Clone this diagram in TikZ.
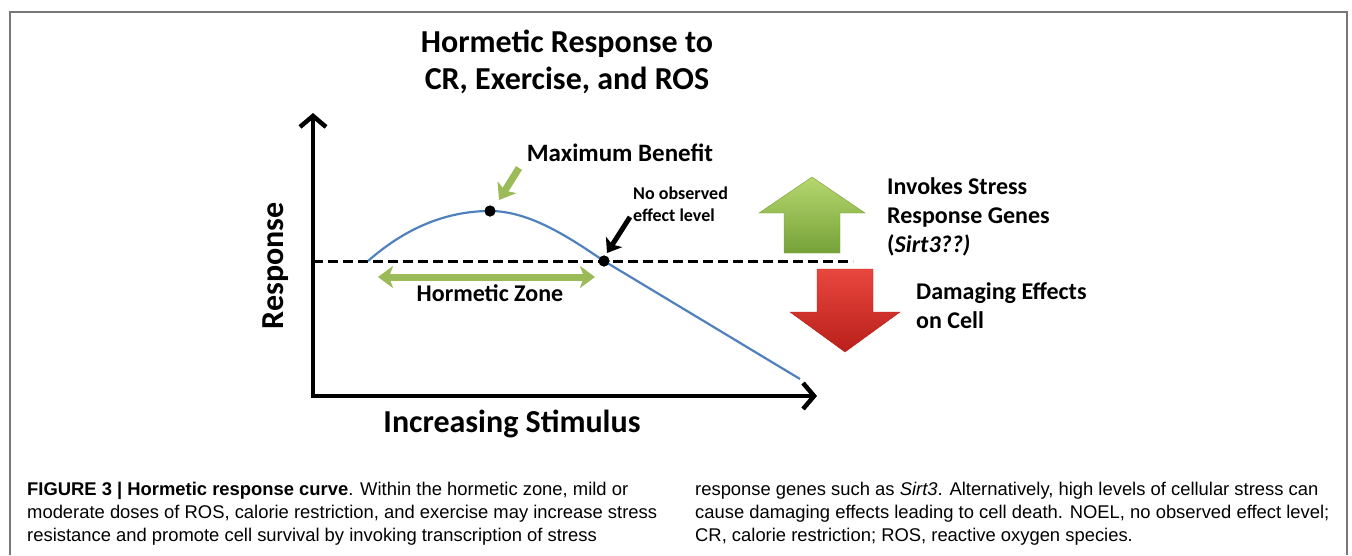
\documentclass[tikz,border=0pt]{standalone}
\usepackage{fontspec}
\setmainfont{Carlito}
\newfontfamily\capfont{Liberation Sans}
\usetikzlibrary{arrows.meta}

\definecolor{framegray}{HTML}{777777}
\definecolor{curveblue}{HTML}{4F81BD}
\definecolor{zonegreen}{HTML}{9BBB59}
\definecolor{upgreentop}{HTML}{B5D76E}
\definecolor{upgreenbot}{HTML}{76A239}
\definecolor{downredtop}{HTML}{E8473E}
\definecolor{downredbot}{HTML}{B91F1B}

\tikzset{
	lbl/.style={inner sep=0pt, font=\fontsize{24}{29}\selectfont\bfseries},
	axislabel/.style={inner sep=0pt, font=\fontsize{32}{38}\selectfont\bfseries},
	captext/.style={inner sep=0pt, align=left, font=\capfont\fontsize{18.4}{23}\selectfont},
	axisline/.style={line width=4.5pt, line join=miter, {Straight Barb[length=11pt,width=26pt]}-{Straight Barb[length=11pt,width=26pt]}},
	fatarrow/.style={line width=7pt, color=zonegreen, -{Stealth[length=15pt,width=22pt,inset=4pt]}},
	dot/.style={circle, fill=black, inner sep=0pt, minimum size=11pt}
}

\begin{document}
\begin{tikzpicture}[x=1pt,y=-1pt]
			\useasboundingbox (0,0) rectangle (1352,555);
			\draw[framegray, line width=1.5pt] (10,555) -- (10,12) -- (1347,12) -- (1347,555);
			
			\coordinate (origin) at (313,396);
			\coordinate (ytip) at (313,113);
			\coordinate (xtip) at (817,396);
			\coordinate (dashL) at (313,261);
			\coordinate (dashR) at (853,261);
			\coordinate (start) at (368,261);
			\coordinate (finish) at (800,379);
			\coordinate (zoneL) at (378,277);
			\coordinate (zoneR) at (595,277);
			\coordinate (benefitTail) at (519,168);
			\coordinate (benefitTip) at (499,200);
			\coordinate (noelTail) at (630,217);
			\coordinate (noelTip) at (607,253);
			
			\node[align=center, inner sep=0pt, font=\fontsize{32}{37}\selectfont\bfseries] (title) at (567,62) {Hormetic Response to\\CR, Exercise, and ROS};
			
			\draw[dashed, dash pattern=on 10pt off 5pt, line width=3pt] (dashL) -- (dashR);
			\draw[axisline] (ytip) -- (origin) -- (xtip);
			
			\node[dot] (peak) at (490,211) {};
			\node[dot] (noel) at (604,261) {};
			\draw[curveblue, line width=2.2pt] (start) .. controls (410,224) and (452,211) .. (peak.center) .. controls (530,211) and (570,238) .. (noel.center) -- (finish);
			\node[dot] at (peak) {};
			\node[dot] at (noel) {};
			
			\node[axislabel, rotate=90] (ylabel) at (276,266) {Response};
			\node[axislabel] (xlabel) at (512,424) {Increasing Stimulus};
			
			\node[lbl, font=\fontsize{25}{30}\selectfont\bfseries] (benefit) at (620,153) {Maximum Benefit};
			\draw[fatarrow] (benefitTail) -- (benefitTip);
			
			\node[lbl, anchor=west, align=left, font=\fontsize{18}{22}\selectfont\bfseries] (noeltext) at (633,204) {No observed\\effect level};
			\draw[line width=5pt, -{Stealth[length=13pt,width=19pt,inset=3pt]}] (noelTail) -- (noelTip);
			
			\draw[fatarrow, {Stealth[length=15pt,width=22pt,inset=4pt]}-{Stealth[length=15pt,width=22pt,inset=4pt]}] (zoneL) -- (zoneR);
			\node[lbl] (zone) at (490,293) {Hormetic Zone};
			
			\draw[draw=upgreenbot, top color=upgreentop, bottom color=upgreenbot] (784,253) -- (784,213) -- (759,213) -- (812,177) -- (865,213) -- (840,213) -- (840,253) -- cycle;
			\draw[draw=downredbot, top color=downredtop, bottom color=downredbot] (817,269) -- (873,269) -- (873,312) -- (900,312) -- (845,352) -- (790,312) -- (817,312) -- cycle;
			
			\node[lbl, anchor=west, align=left] (invokes) at (887,217) {Invokes Stress\\Response Genes\\(\textit{Sirt3??)}};
			\node[lbl, anchor=west, align=left] (damage) at (916,306) {Damaging Effects\\on Cell};
			
			\node[captext, anchor=west] (capleft) at (27,514) {\textbf{FIGURE 3 | Hormetic response curve}. Within the hormetic zone, mild or\\moderate doses of ROS, calorie restriction, and exercise may increase stress\\resistance and promote cell survival by invoking transcription of stress};
			\node[captext, anchor=west] (capright) at (695,514) {response genes such as \textit{Sirt3}. Alternatively, high levels of cellular stress can\\cause damaging effects leading to cell death. NOEL, no observed effect level;\\CR, calorie restriction; ROS, reactive oxygen species.};
			\end{tikzpicture}
\end{document}
